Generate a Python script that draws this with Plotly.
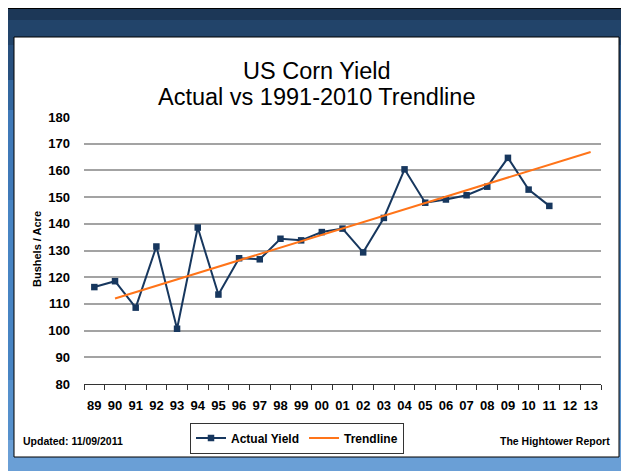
import plotly.graph_objects as go

#%% data
years = ['89', '90', '91', '92', '93', '94', '95', '96', '97', '98', '99', '00',
         '01', '02', '03', '04', '05', '06', '07', '08', '09', '10', '11', '12', '13']
actual_years = years[:23]
actual_yield = [116.3, 118.5, 108.6, 131.5, 100.7, 138.6, 113.5, 127.1, 126.7,
                134.4, 133.8, 136.9, 138.2, 129.3, 142.2, 160.4, 147.9, 149.1,
                150.7, 153.9, 164.7, 152.8, 146.7]
trend_years = ['90', '13']
trend_yield = [112.0, 166.9]

#%% layout helpers (screen pixel -> paper coords)
W, H = 629, 471
OFF = 8  # page body margin, figure is drawn 8px in from the corner
L, R, T, B = 84, 601, 117, 384

def px_x(x):
    return (x - L) / (R - L)

def px_y(y):
    return (B - y) / (B - T)

FONT = 'Liberation Sans, Arial, sans-serif'
NAVY = '#17375e'
ORANGE = '#ff7419'

#%% figure
fig = go.Figure()
fig.add_trace(go.Scatter(x=actual_years, y=actual_yield, name='Actual Yield',
                         mode='lines+markers',
                         line=dict(color=NAVY, width=2),
                         marker=dict(symbol='square', size=6.5, color=NAVY)))
fig.add_trace(go.Scatter(x=trend_years, y=trend_yield, name='Trendline',
                         mode='lines', line=dict(color=ORANGE, width=2)))

# background: blue gradient bands, frame, white panel
shapes = []
bands = [(0, 20, '#1c3757'), (20, 45, '#22446a'), (45, 80, '#28507e'),
         (80, 110, '#33679f'), (110, 200, '#3f79b8'), (200, 380, '#4784c3'),
         (380, 440, '#5590cc'), (440, H + OFF, '#6a9fd6')]
for y0, y1, c in bands:
    shapes.append(dict(type='rect', xref='paper', yref='paper', layer='below',
                       x0=px_x(0), x1=px_x(W + OFF), y0=px_y(y1), y1=px_y(y0),
                       fillcolor=c, line=dict(width=0)))
shapes.append(dict(type='rect', xref='paper', yref='paper', layer='below',
                   x0=px_x(0), x1=px_x(W + OFF), y0=px_y(9), y1=px_y(5),
                   fillcolor='black', line=dict(width=0)))
shapes.append(dict(type='rect', xref='paper', yref='paper', layer='below',
                   x0=px_x(14), x1=px_x(619), y0=px_y(457), y1=px_y(37),
                   fillcolor='white', line=dict(color='black', width=1)))

annotations = [
    dict(text='US Corn Yield', x=px_x(317), y=px_y(71), xref='paper', yref='paper',
         showarrow=False, xanchor='center', yanchor='middle',
         font=dict(family=FONT, size=23.5, color='black')),
    dict(text='Actual vs 1991-2010 Trendline', x=px_x(316), y=px_y(97),
         xref='paper', yref='paper', showarrow=False, xanchor='center',
         yanchor='middle', font=dict(family=FONT, size=23.5, color='black')),
    dict(text='Bushels / Acre', x=px_x(37), y=px_y(249), xref='paper', yref='paper',
         showarrow=False, textangle=-90, xanchor='center', yanchor='middle',
         font=dict(family=FONT, size=11, color='black', weight='bold')),
    dict(text='Updated: 11/09/2011', x=px_x(21), y=px_y(441), xref='paper',
         yref='paper', showarrow=False, xanchor='left', yanchor='middle',
         font=dict(family=FONT, size=10.5, color='black', weight='bold')),
    dict(text='The Hightower Report', x=px_x(612), y=px_y(441), xref='paper',
         yref='paper', showarrow=False, xanchor='right', yanchor='middle',
         font=dict(family=FONT, size=10.5, color='black', weight='bold')),
]

fig.update_layout(
    width=W, height=H,
    margin=dict(l=L - OFF, r=W - (R - OFF), t=T - OFF, b=H - (B - OFF)),
    paper_bgcolor='#4784c3',
    plot_bgcolor='rgba(0,0,0,0)',
    shapes=shapes,
    annotations=annotations,
    showlegend=True,
    legend=dict(orientation='h', x=px_x(297), xanchor='center',
                y=px_y(438), yanchor='middle',
                bgcolor='white', bordercolor='#333333', borderwidth=1,
                itemwidth=30,
                font=dict(family=FONT, size=12, color='black', weight='bold')),
)
fig.update_xaxes(type='category', categoryorder='array', categoryarray=years,
                 range=[-0.5, len(years) - 0.5], tickangle=0,
                 showgrid=False, showline=True, linecolor='#333333', linewidth=1,
                 ticks='outside', tickson='boundaries', ticklen=5,
                 tickcolor='#333333', ticklabelstandoff=9,
                 tickfont=dict(family=FONT, size=13, color='black', weight='bold'))
fig.update_yaxes(range=[80, 180], dtick=10, showgrid=True, gridcolor='#a3a3a3',
                 gridwidth=1.5, zeroline=False, showline=False,
                 ticklabelstandoff=13,
                 tickfont=dict(family=FONT, size=13, color='black', weight='bold'))

fig.write_html("out.html")
